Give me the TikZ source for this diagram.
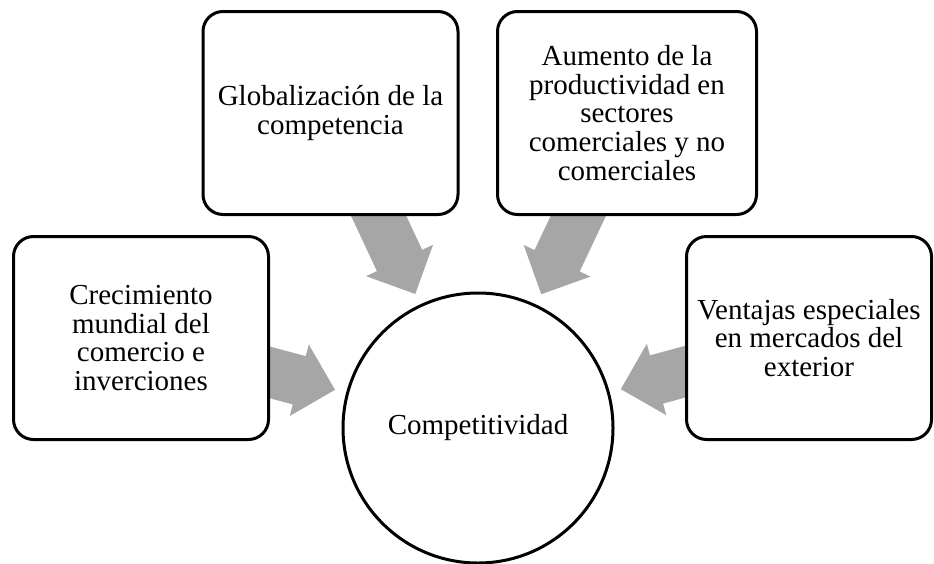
\documentclass[tikz,border=0pt]{standalone}
\usepackage{fontspec}
\setmainfont{Liberation Serif}
\usetikzlibrary{shapes, positioning, calc, backgrounds}

\definecolor{arrowgray}{HTML}{A6A6A6}

% gray block arrow from a box towards the centre circle
\newcommand{\feeder}[2]{%
  \coordinate (tip) at ($(#2)!148pt!(#1)$);
  \coordinate (neck) at ($(#2)!185pt!(#1)$);
  \coordinate (tail) at ($(#2)!260pt!(#1)$);
  \fill[arrowgray] (tip) -- ($(neck)!37pt!90:(#2)$) -- ($(neck)!25pt!90:(#2)$)
    -- ($(tail)!25pt!90:(#2)$) -- ($(tail)!25pt!-90:(#2)$)
    -- ($(neck)!25pt!-90:(#2)$) -- ($(neck)!37pt!-90:(#2)$) -- cycle;
}

\begin{document}
\begin{tikzpicture}[
  x=1pt, y=-1pt,
  block/.style={rectangle, draw, line width=3pt, rounded corners=20pt, fill=white,
    minimum width=255pt, minimum height=203pt, align=center,
    font=\fontsize{29}{28.6}\selectfont},
  core/.style={circle, draw, line width=3pt, fill=white, minimum size=270pt,
    font=\fontsize{29}{28.6}\selectfont}
]
\useasboundingbox (0,0) rectangle (934,563);

% Centre and sources
\node[core] (compet) at (478,428) {Competitividad};
\node[block] (crecim) at (141,338) {Crecimiento\\mundial del\\comercio e\\inverciones};
\node[block] (global) at (330.5,113) {Globalización de la\\competencia};
\node[block, minimum width=259pt] (aument) at (627,113) {Aumento de la\\productividad en\\sectores\\comerciales y no\\comerciales};
\node[block, minimum width=245pt] (ventaj) at (809,338) {Ventajas especiales\\en mercados del\\exterior};

% Arrows
\begin{scope}[on background layer]
\feeder{crecim}{compet}
\feeder{global}{compet}
\feeder{aument}{compet}
\feeder{ventaj}{compet}
\end{scope}

\end{tikzpicture}
\end{document}
